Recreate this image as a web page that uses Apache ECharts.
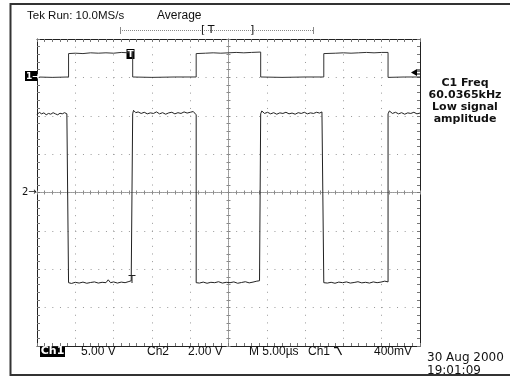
<!DOCTYPE html>
<html><head><meta charset="utf-8">
<script src="https://cdn.jsdelivr.net/npm/echarts@6/dist/echarts.min.js"></script>
<style>html,body{margin:0;padding:0;background:#fff}#c{width:510px;height:377px}</style>
</head><body><div id="c"></div>
<script>
// time axis in microseconds (5 us/div, 10 div); Ch1 5 V/div, Ch2 2 V/div
const timeRange = [0, 50];
const ch2Range = [-8, 8];     // 2 V/div, ground at centre
const ch1Range = [-35, 5];    // 5 V/div, ground 3 div above centre
// Ch1 trace [time us, volts]
const ch1Trace = [
  [0,0.05],[2,0.0],[4.12,0.05],[4.12,3.1],[5,3.15],[6,3.1],[7,3.2],[8,3.15],[9,3.2],[10,3.15],[11,3.25],[12,3.2],[12.49,3.25],
  [12.49,0.05],[15,0.0],[18,0.05],[20.78,0.05],[20.78,3.1],[22,3.15],[23,3.2],[24,3.15],[25,3.2],[26,3.25],[27,3.2],[28,3.25],[29.2,3.3],
  [29.2,0.05],[32,0.0],[35,0.05],[37.44,0.05],[37.44,3.1],[39,3.15],[40,3.2],[41,3.15],[42,3.2],[43,3.25],[44,3.2],[45,3.25],[45.83,3.25],
  [45.83,0.0],[48,0.05],[50,0.05]
];
// Ch2 trace [time us, volts]
const ch2Trace = [
  [0,4.05],[0.3,4.18],[0.6,4.1],[0.9,4.15],[1.2,4.05],[1.5,4.12],[1.8,4.08],[2.1,4.16],[2.4,4.1],[2.7,4.05],[3.0,4.13],[3.3,4.1],[3.6,4.16],[3.9,4.1],[4.12,4.12],
  [4.12,-4.7],[4.5,-4.74],[5,-4.68],[5.5,-4.72],[6,-4.67],[6.5,-4.73],[7,-4.69],[7.5,-4.66],[8,-4.72],[8.5,-4.68],[9,-4.7],[9.3,-4.55],[9.6,-4.7],[10,-4.66],[10.5,-4.72],[11,-4.67],[11.5,-4.7],[12,-4.64],[12.3,-4.6],[12.49,-4.68],
  [12.49,4.1],[12.6,4.28],[12.9,4.16],[13.2,4.2],[13.6,4.12],[14,4.18],[14.4,4.1],[14.8,4.15],[15.2,4.12],[15.6,4.2],[16,4.1],[16.4,4.16],[16.8,4.08],[17.2,4.15],[17.6,4.18],[18,4.1],[18.4,4.16],[18.8,4.12],[19.2,4.2],[19.6,4.14],[20,4.18],[20.4,4.22],[20.65,4.15],[20.78,4.05],
  [20.78,-4.7],[21.2,-4.72],[21.7,-4.67],[22.2,-4.73],[22.7,-4.68],[23.2,-4.7],[23.7,-4.65],[24.2,-4.72],[24.7,-4.68],[25.2,-4.7],[25.7,-4.66],[26.2,-4.73],[26.7,-4.69],[27.2,-4.65],[27.7,-4.71],[28.2,-4.67],[28.7,-4.62],[29.05,-4.6],[29.2,-4.68],
  [29.2,4.1],[29.35,4.25],[29.7,4.12],[30.1,4.18],[30.5,4.1],[30.9,4.16],[31.3,4.08],[31.7,4.15],[32.1,4.12],[32.5,4.18],[32.9,4.1],[33.3,4.14],[33.7,4.08],[34.1,4.16],[34.5,4.12],[34.9,4.18],[35.3,4.1],[35.7,4.15],[36.1,4.12],[36.5,4.18],[36.9,4.14],[37.2,4.2],[37.44,4.1],
  [37.44,-4.7],[37.9,-4.72],[38.4,-4.68],[38.9,-4.73],[39.4,-4.67],[39.9,-4.7],[40.4,-4.66],[40.9,-4.72],[41.4,-4.69],[41.9,-4.65],[42.4,-4.71],[42.9,-4.68],[43.4,-4.72],[43.9,-4.66],[44.4,-4.7],[44.9,-4.67],[45.4,-4.62],[45.83,-4.66],
  [45.83,4.1],[46,4.25],[46.4,4.12],[46.8,4.18],[47.2,4.1],[47.6,4.16],[48,4.08],[48.4,4.15],[48.8,4.12],[49.2,4.18],[49.6,4.1],[50,4.14]
];
const headerText = 'Tek Run: 10.0MS/s';
const modeText = 'Average';
const measLines = ['C1 Freq', '60.0365kHz', 'Low signal', 'amplitude'];
const bottomTexts = ['5.00 V', 'Ch2', '2.00 V', 'M 5.00\u00b5s', 'Ch1', '400mV'];
const dateText = '30 Aug 2000';
const timeText = '19:01:09';

const FONT = '"DejaVu Sans", sans-serif';
const LFONT = '"Liberation Sans", Arial, sans-serif';
const tickGray = '#777';
function borderAxis(pos, extra) {
  return Object.assign({
    type: 'value', position: pos, show: true,
    axisLine: { show: true, onZero: false, lineStyle: { color: '#222', width: 1 } },
    axisTick: { show: true, inside: true, length: 3, lineStyle: { color: tickGray } },
    minorTick: { show: true, splitNumber: 5, length: 3, lineStyle: { color: tickGray } },
    axisLabel: { show: false }, splitLine: { show: false }
  }, extra);
}
function centerAxis(pos, offset, inside, extra) {
  return Object.assign({
    type: 'value', position: pos, offset: offset, show: true,
    axisLine: { show: true, onZero: false, lineStyle: { color: '#999', width: 1, type: [1, 1] } },
    axisTick: { show: true, inside: inside, length: 2, lineStyle: { color: '#888' } },
    minorTick: { show: true, splitNumber: 5, length: 2, lineStyle: { color: '#888' } },
    axisLabel: { show: false }, splitLine: { show: false }
  }, extra);
}
const dotted = { show: true, lineStyle: { color: '#999', width: 1, type: [1, 6.66] } };
const xCommon = { min: timeRange[0], max: timeRange[1], interval: 5 };
const y2Common = { min: ch2Range[0], max: ch2Range[1], interval: 2 };

function txt(x, y, s, opts) {
  return { type: 'text', x: x, y: y, silent: true, z: 10,
    style: Object.assign({ text: s, font: '11px ' + LFONT, fill: '#111', verticalAlign: 'middle', align: 'left' }, opts || {}) };
}
function seg(x1, y1, x2, y2, color, w) {
  return { type: 'line', silent: true, shape: { x1: x1, y1: y1, x2: x2, y2: y2 }, style: { stroke: color, lineWidth: w } };
}
const graphics = [
  seg(10, 4, 510, 4, '#333', 2),
  seg(10.5, 3, 10.5, 376, '#333', 2),
  seg(10, 375, 510, 375, '#333', 2),
  txt(27, 16, headerText, { font: '11.5px ' + LFONT }),
  txt(157, 16, modeText, { font: '12px ' + LFONT }),
  // trigger position bar
  { type: 'line', silent: true, shape: { x1: 120, y1: 30.5, x2: 313, y2: 30.5 }, style: { stroke: '#888', lineWidth: 1, lineDash: [1, 1] } },
  seg(120.5, 27, 120.5, 34, '#888', 1),
  seg(313.5, 27, 313.5, 34, '#888', 1),
  txt(201, 30, '[', { font: '11px ' + FONT }),
  txt(211, 30, 'T', { font: '11px ' + FONT, align: 'center' }),
  txt(250, 30, ']', { font: '11px ' + FONT }),
  // ch1 ground marker
  { type: 'rect', silent: true, shape: { x: 25, y: 71, width: 12, height: 10 }, style: { fill: '#000' } },
  txt(26, 76.5, '1\u2192', { font: 'bold 9px ' + FONT, fill: '#fff' }),
  // ch2 ground marker
  txt(22, 192.5, '2\u2192', { font: '10px ' + FONT }),
  // trigger marker on ch1
  { type: 'rect', silent: true, shape: { x: 126.5, y: 49, width: 8, height: 10 }, style: { fill: '#000' } },
  txt(130.5, 54.5, 'T', { font: 'bold 9px ' + FONT, fill: '#fff', align: 'center' }),
  // trigger level arrow
  { type: 'polygon', silent: true, shape: { points: [[411, 72.5], [417, 69], [417, 76]] }, style: { fill: '#000' } },
  seg(415, 71, 420, 71, '#000', 1),
  seg(415, 74, 420, 74, '#000', 1),
  // small T on ch2
  seg(128.5, 275.5, 135.5, 275.5, '#222', 1),
  seg(132, 275, 132, 283, '#222', 1),
  // measurement text
  txt(465, 83, measLines[0], { font: 'bold 11px ' + FONT, align: 'center' }),
  txt(465, 95.5, measLines[1], { font: 'bold 11px ' + FONT, align: 'center' }),
  txt(465, 107, measLines[2], { font: 'bold 11px ' + FONT, align: 'center' }),
  txt(465, 119, measLines[3], { font: 'bold 11px ' + FONT, align: 'center' }),
  // bottom status line
  { type: 'rect', silent: true, shape: { x: 40, y: 346, width: 25, height: 11 }, style: { fill: '#000' } },
  txt(52.5, 351.5, 'Ch1', { font: 'bold 11px ' + FONT, fill: '#fff', align: 'center' }),
  txt(81, 351.5, bottomTexts[0], { font: '12px ' + LFONT }),
  txt(147, 351.5, bottomTexts[1], { font: '12px ' + LFONT }),
  txt(188, 351.5, bottomTexts[2], { font: '12px ' + LFONT }),
  txt(249, 351.5, bottomTexts[3], { font: '12px ' + LFONT }),
  txt(308, 351.5, bottomTexts[4], { font: '12px ' + LFONT }),
  { type: 'polyline', silent: true, shape: { points: [[334, 347.5], [337.5, 347.5], [341.5, 355]] }, style: { stroke: '#111', lineWidth: 1.3, fill: null } },
  txt(374, 351.5, bottomTexts[5], { font: '12px ' + LFONT }),
  txt(427, 358, dateText, { font: '12px ' + FONT }),
  txt(427, 370.5, timeText, { font: '12px ' + FONT })
];

const chart = echarts.init(document.getElementById('c'), null, { renderer: 'canvas' });
chart.setOption({
  animation: false,
  backgroundColor: '#fff',
  grid: { left: 37, top: 39, width: 383, height: 307, containLabel: false },
  xAxis: [
    borderAxis('bottom', Object.assign({ splitLine: dotted }, xCommon)),
    borderAxis('top', Object.assign({}, xCommon)),
    centerAxis('bottom', -153.5, true, Object.assign({}, xCommon)),
    centerAxis('bottom', -153.5, false, Object.assign({}, xCommon))
  ],
  yAxis: [
    borderAxis('left', Object.assign({ splitLine: dotted }, y2Common)),
    borderAxis('right', Object.assign({}, y2Common)),
    { type: 'value', min: ch1Range[0], max: ch1Range[1], show: false, splitLine: { show: false } },
    centerAxis('left', -191.5, true, Object.assign({}, y2Common)),
    centerAxis('left', -191.5, false, Object.assign({}, y2Common))
  ],
  series: [
    { name: 'Ch1', type: 'line', xAxisIndex: 0, yAxisIndex: 2, data: ch1Trace, showSymbol: false, symbol: 'none',
      lineStyle: { color: '#333', width: 1 }, z: 5 },
    { name: 'Ch2', type: 'line', xAxisIndex: 0, yAxisIndex: 0, data: ch2Trace, showSymbol: false, symbol: 'none',
      lineStyle: { color: '#222', width: 1 }, z: 5 }
  ],
  graphic: graphics
});
</script></body></html>
